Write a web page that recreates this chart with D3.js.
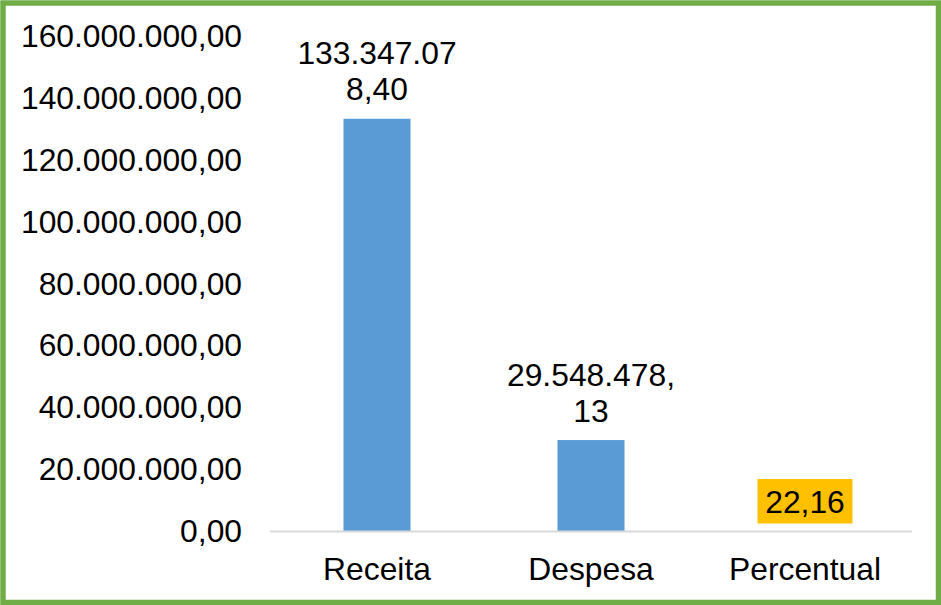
<!DOCTYPE html>
<html>
<head>
<meta charset="utf-8">
<script src="https://cdn.jsdelivr.net/npm/d3@7"></script>
<style>
html,body{margin:0;padding:0;background:#fff;}
svg{display:block;}
text{font-family:"Liberation Sans",Arial,sans-serif;fill:#000;}
</style>
</head>
<body>
<svg id="chart" width="941" height="605"></svg>
<script>
const categories = ["Receita", "Despesa", "Percentual"];
const values = [133347078.40, 29548478.13, 22.16];
const valueLabels = [["133.347.07", "8,40"], ["29.548.478,", "13"], ["22,16"]];
const tickValues = [0, 20000000, 40000000, 60000000, 80000000, 100000000, 120000000, 140000000, 160000000];
const tickLabels = ["0,00", "20.000.000,00", "40.000.000,00", "60.000.000,00", "80.000.000,00", "100.000.000,00", "120.000.000,00", "140.000.000,00", "160.000.000,00"];

const W = 941, H = 605;
const svg = d3.select("#chart");
const fontSize = 31.8;

// border
svg.append("rect").attr("x", 3).attr("y", 3).attr("width", W - 5.5).attr("height", H - 5.5)
  .attr("fill", "#fff").attr("stroke", "#70AD47").attr("stroke-width", 5.5);

const x = d3.scaleBand().domain(categories).range([270, 912]).paddingInner(0.687).paddingOuter(0.3435);
const y = d3.scaleLinear().domain([0, 160000000]).range([531.5, 36.3]);

// y axis labels
const yAxis = d3.axisLeft(y).tickValues(tickValues).tickSize(0).tickPadding(0)
  .tickFormat((d, i) => tickLabels[i]);
const gy = svg.append("g").attr("transform", "translate(242,0)").call(yAxis);
gy.select(".domain").remove();
gy.selectAll("text").attr("font-size", fontSize).attr("font-family", "Liberation Sans, Arial, sans-serif").attr("fill", "#000");

// bars
svg.selectAll("rect.bar").data(values).enter().append("rect").attr("class", "bar")
  .attr("x", (d, i) => x(categories[i]))
  .attr("y", d => y(d))
  .attr("width", x.bandwidth())
  .attr("height", d => y(0) - y(d))
  .attr("fill", "#5B9BD5");

// baseline
svg.append("line").attr("x1", 270).attr("x2", 912).attr("y1", y(0)).attr("y2", y(0))
  .attr("stroke", "#D9D9D9").attr("stroke-width", 2);

// x axis labels
const xAxis = d3.axisBottom(x).tickSize(0).tickPadding(0);
const gx = svg.append("g").attr("transform", `translate(0,${y(0)})`).call(xAxis);
gx.select(".domain").remove();
gx.selectAll("text").attr("font-size", fontSize).attr("font-family", "Liberation Sans, Arial, sans-serif")
  .attr("fill", "#000").attr("dy", null).attr("y", 48.5);

// value labels
values.forEach((v, i) => {
  const cx = x(categories[i]) + x.bandwidth() / 2;
  const lines = valueLabels[i];
  if (lines.length === 1) {
    const base = y(v) - 18;
    svg.append("rect").attr("x", cx - 47.5).attr("y", base - 34.5).attr("width", 95).attr("height", 44.5)
      .attr("fill", "#FFC000");
    svg.append("text").attr("x", cx).attr("y", base).attr("text-anchor", "middle")
      .attr("font-size", fontSize).text(lines[0]);
  } else {
    const base2 = y(v) - 18.5;
    lines.forEach((t, j) => {
      svg.append("text").attr("x", cx).attr("y", base2 - (lines.length - 1 - j) * 35.8)
        .attr("text-anchor", "middle").attr("font-size", fontSize).text(t);
    });
  }
});
</script>
</body>
</html>
